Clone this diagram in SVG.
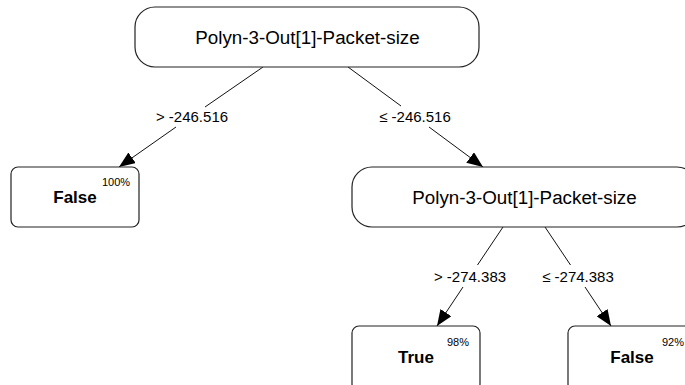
<svg xmlns="http://www.w3.org/2000/svg" width="685" height="385" viewBox="0 0 685 385">
<defs>
<marker id="arr" markerUnits="userSpaceOnUse" markerWidth="17" markerHeight="13" refX="16" refY="6.5" orient="auto">
<path d="M0,0 L16,6.5 L0,13 z" fill="#000"/>
</marker>
<style>
.box{fill:#fff;stroke:#222;stroke-width:1.2}
.edge{fill:none;stroke:#111;stroke-width:1;marker-end:url(#arr)}
.dec{font-family:"Liberation Sans",Arial,sans-serif;font-size:18.8px;fill:#000;text-anchor:middle}
.lab{font-family:"Liberation Sans",Arial,sans-serif;font-size:15px;fill:#000;text-anchor:middle}
.leaf{font-family:"Liberation Sans",Arial,sans-serif;font-size:17px;font-weight:bold;fill:#000;text-anchor:middle}
.pct{font-family:"Liberation Sans",Arial,sans-serif;font-size:11px;fill:#000;text-anchor:middle}
</style>
</defs>
<rect width="685" height="385" fill="#fff"/>
<g id="connectors">
<path class="edge" d="M263,67 L205,107 M176,127 L119,167"/>
<path class="edge" d="M348,67 L401,106 M429,127 L483,167"/>
<path class="edge" d="M503,227 L477.5,265 M463,287 L437,326"/>
<path class="edge" d="M545,227 L570.5,265 M585,287 L611,326"/>
<text class="lab" x="192" y="122">&gt; -246.516</text>
<text class="lab" x="415" y="122">≤ -246.516</text>
<text class="lab" x="470" y="282">&gt; -274.383</text>
<text class="lab" x="578" y="282">≤ -274.383</text>
</g>
<g id="root">
<rect class="box" x="135" y="7" width="344" height="60" rx="20" ry="20"/>
<text class="dec" x="307.5" y="44">Polyn-3-Out[1]-Packet-size</text>
</g>
<g id="leaf-false-1">
<rect class="box" x="11" y="167" width="128" height="60" rx="7" ry="7"/>
<text class="leaf" x="75" y="203">False</text>
<text class="pct" x="116" y="186">100%</text>
</g>
<g id="node-2">
<rect class="box" x="352" y="167" width="345" height="60" rx="20" ry="20"/>
<text class="dec" x="524.5" y="204">Polyn-3-Out[1]-Packet-size</text>
</g>
<g id="leaf-true">
<rect class="box" x="352" y="326" width="128" height="65" rx="7" ry="7"/>
<text class="leaf" x="416" y="363">True</text>
<text class="pct" x="458" y="346">98%</text>
</g>
<g id="leaf-false-2">
<rect class="box" x="568" y="326" width="128" height="65" rx="7" ry="7"/>
<text class="leaf" x="632" y="363">False</text>
<text class="pct" x="673" y="346">92%</text>
</g>
</svg>
